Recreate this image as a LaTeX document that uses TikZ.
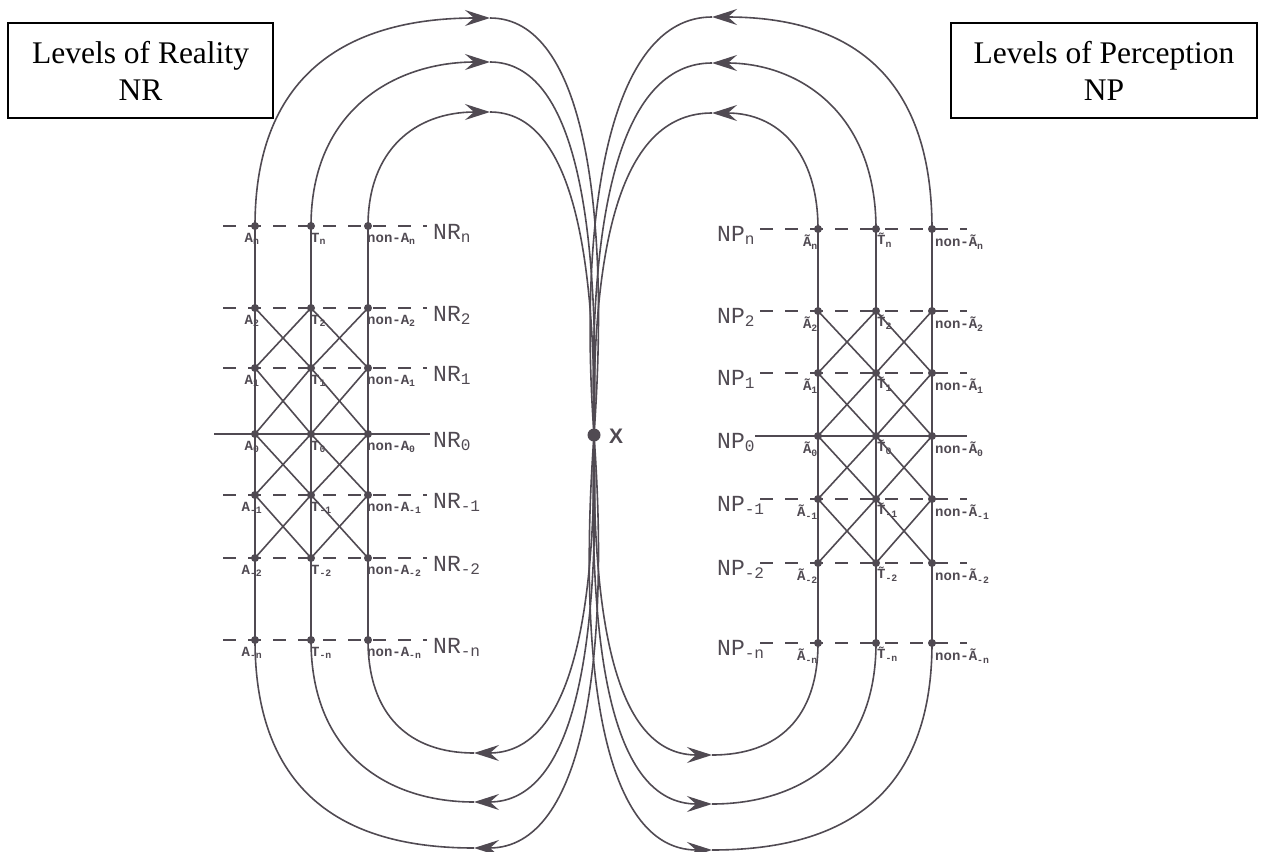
\documentclass[tikz,border=0pt]{standalone}
\usepackage{fontspec}
\setmainfont{Liberation Serif}
\newfontfamily\monof{Liberation Mono}
\newfontfamily\sansf{Liberation Sans}
\usetikzlibrary{arrows.meta}
\definecolor{lc}{RGB}{80,74,82}
\begin{document}
\begin{tikzpicture}[x=1pt,y=-1pt,
  ln/.style={draw=lc, line width=1.6pt},
  dashln/.style={ln, dash pattern=on 13pt off 12pt},
  dot/.style={circle, fill=lc, inner sep=0pt, minimum size=8pt},
  lbl/.style={font=\monof\bfseries\fontsize{14}{14}\selectfont, text=lc, inner sep=0pt},
  lvl/.style={font=\monof\fontsize{23}{23}\selectfont, text=lc, inner sep=0pt, anchor=base west},
  box/.style={draw=black, line width=1.5pt, align=center, font=\fontsize{31.5}{37}\selectfont, inner sep=0pt, minimum height=95pt},
  arr/.style={ln, -{Stealth[length=25pt, width=16pt, inset=9pt]}}
]
\useasboundingbox (0,0) rectangle (1262,852);

% boxes
\node[box, minimum width=265pt] (boxR) at (140.5,70.5) {Levels of Reality\\NR};
\node[box, minimum width=306pt] (boxP) at (1104,70.5) {Levels of Perception\\NP};

% left grid
\foreach \r/\y/\s in {n/226/n,2/308/2,1/368/1,0/434/0,m1/495/-1,m2/558/-2,mn/640/-n}{
  \node[dot] (LA\r) at (255,\y) {};
  \node[dot] (LT\r) at (311,\y) {};
  \node[dot] (LN\r) at (368,\y) {};
  \coordinate (Ls\r) at (223,\y);
  \coordinate (Le\r) at (427,\y);
  \node[lvl] (LL\r) at (433,{\y+13}) {NR\textsubscript{\s}};
  \node[lbl, anchor=north] (LAl\r) at (252,{\y+7}) {A\textsubscript{\s}};
  \node[lbl, anchor=north west] (LTl\r) at (311,{\y+7}) {T\textsubscript{\s}};
  \node[lbl, anchor=north west] (LNl\r) at (367,{\y+7}) {non-A\textsubscript{\s}};
}
\coordinate (Ls0) at (214,434);
\coordinate (Le0) at (430,434);
\foreach \r in {n,2,1,m1,m2,mn} \draw[dashln] (Ls\r) -- (Le\r);
\draw[ln] (Ls0) -- (Le0);
\draw[ln] (LAn.center) -- (LAmn.center);
\draw[ln] (LTn.center) -- (LTmn.center);
\draw[ln] (LNn.center) -- (LNmn.center);
\foreach \a/\b in {2/1,1/0,0/m1,m1/m2}{
  \draw[ln] (LA\a.center) -- (LT\b.center);
  \draw[ln] (LT\a.center) -- (LA\b.center);
  \draw[ln] (LT\a.center) -- (LN\b.center);
  \draw[ln] (LN\a.center) -- (LT\b.center);
}

% right grid
\foreach \r/\y/\s in {n/229/n,2/311/2,1/373/1,0/436/0,m1/499/-1,m2/563/-2,mn/643/-n}{
  \node[dot] (RA\r) at (818,\y) {};
  \node[dot] (RT\r) at (876,\y) {};
  \node[dot] (RN\r) at (932,\y) {};
  \coordinate (Rs\r) at (760,\y);
  \coordinate (Re\r) at (967,\y);
  \node[lvl] (RL\r) at (717,{\y+12}) {NP\textsubscript{\s}};
  \node[lbl, anchor=north east] (RAl\r) at (818,{\y+6}) {\~{A}\textsubscript{\s}};
  \node[lbl, anchor=north west] (RTl\r) at (877,{\y+4}) {\~{T}\textsubscript{\s}};
  \node[lbl, anchor=north west] (RNl\r) at (935,{\y+6}) {non-\~{A}\textsubscript{\s}};
}
\coordinate (Rs0) at (755,436);
\foreach \r in {n,2,1,m1,m2,mn} \draw[dashln] (Rs\r) -- (Re\r);
\draw[ln] (Rs0) -- (Re0);
\draw[ln] (RAn.center) -- (RAmn.center);
\draw[ln] (RTn.center) -- (RTmn.center);
\draw[ln] (RNn.center) -- (RNmn.center);
\foreach \a/\b in {2/1,1/0,0/m1,m1/m2}{
  \draw[ln] (RA\a.center) -- (RT\b.center);
  \draw[ln] (RT\a.center) -- (RA\b.center);
  \draw[ln] (RT\a.center) -- (RN\b.center);
  \draw[ln] (RN\a.center) -- (RT\b.center);
}

% centre
\node[circle, fill=lc, inner sep=0pt, minimum size=13pt] (X) at (594,435) {};
\node[font=\sansf\bfseries\fontsize{21}{21}\selectfont, text=lc, inner sep=0pt] (Xl) at (616,436) {X};

% peaks
\coordinate (tl1) at (490,18);  \coordinate (tl2) at (490,62);  \coordinate (tl3) at (490,112);
\coordinate (bl1) at (474,848); \coordinate (bl2) at (474,802); \coordinate (bl3) at (474,753);
\coordinate (tr1) at (712,17);  \coordinate (tr2) at (712,63);  \coordinate (tr3) at (712,113);
\coordinate (br1) at (712,850); \coordinate (br2) at (712,804); \coordinate (br3) at (712,755);

% top left arcs
\draw[arr] (LAn.center) .. controls (255,60) and (365,18) .. (tl1);
\draw[ln] (tl1) .. controls (585,18) and (610,210) .. (X.center);
\draw[arr] (LTn.center) .. controls (311,110) and (395,62) .. (tl2);
\draw[ln] (tl2) .. controls (575,62) and (600,220) .. (X.center);
\draw[arr] (LNn.center) .. controls (368,150) and (415,112) .. (tl3);
\draw[ln] (tl3) .. controls (565,112) and (596,230) .. (X.center);

% bottom left arcs
\draw[arr] (X.center) .. controls (610,656) and (585,848) .. (bl1);
\draw[ln] (bl1) .. controls (360,848) and (255,806) .. (LAmn.center);
\draw[arr] (X.center) .. controls (600,646) and (575,802) .. (bl2);
\draw[ln] (bl2) .. controls (390,802) and (311,756) .. (LTmn.center);
\draw[arr] (X.center) .. controls (596,636) and (565,753) .. (bl3);
\draw[ln] (bl3) .. controls (410,753) and (368,716) .. (LNmn.center);

% top right arcs
\draw[arr] (RNn.center) .. controls (932,62) and (835,17) .. (tr1);
\draw[ln] (tr1) .. controls (610,17) and (578,210) .. (X.center);
\draw[arr] (RTn.center) .. controls (876,112) and (798,63) .. (tr2);
\draw[ln] (tr2) .. controls (618,63) and (588,220) .. (X.center);
\draw[arr] (RAn.center) .. controls (818,152) and (778,113) .. (tr3);
\draw[ln] (tr3) .. controls (625,113) and (592,230) .. (X.center);

% bottom right arcs
\draw[arr] (X.center) .. controls (578,658) and (600,850) .. (br1);
\draw[ln] (br1) .. controls (828,850) and (932,808) .. (RNmn.center);
\draw[arr] (X.center) .. controls (588,648) and (610,804) .. (br2);
\draw[ln] (br2) .. controls (798,804) and (876,758) .. (RTmn.center);
\draw[arr] (X.center) .. controls (592,638) and (620,755) .. (br3);
\draw[ln] (br3) .. controls (778,755) and (818,718) .. (RAmn.center);
\end{tikzpicture}
\end{document}
